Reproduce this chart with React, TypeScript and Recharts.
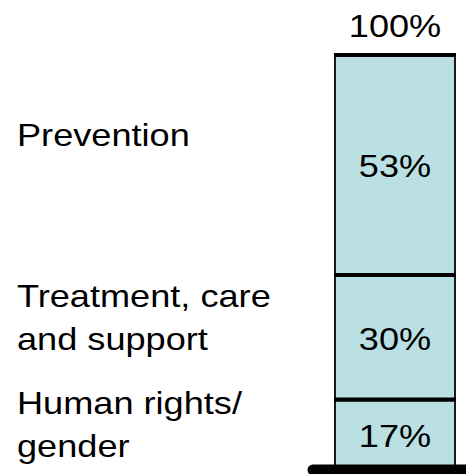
import React from 'react';
import { BarChart, Bar, XAxis, YAxis } from 'recharts';

// Data (bottom to top of the stack)
const categories = ['Human rights/\ngender', 'Treatment, care\nand support', 'Prevention'];
const values = [17, 30, 53];
const seriesKeys = ['humanRights', 'treatment', 'prevention'];
const totalLabel = '100%';

// Styling / layout constants
const FILL = '#bbe0e3';
const FONT = '"Liberation Sans", Arial, sans-serif';
const FONT_SIZE = 32;
const STRETCH = 1.13;
const LINE_GAP = 43;
const LEFT_TEXT_X = 17;
// first-line baseline offset relative to segment centre, per segment
const NAME_BASELINE_OFFSET = [-21, -30.5, -19];
const VALUE_BASELINE_OFFSET = 12.5;

const row: Record<string, any> = { name: 'Total' };
seriesKeys.forEach((k, i) => { row[k] = values[i]; });
const data = [row];

const makeShape = (index: number) => (props: any) => {
  const { x, y, width, height } = props;
  const isBottom = index === 0;
  return (
    <g>
      <rect x={x} y={y} width={width} height={height} fill={FILL} />
      <line x1={x} y1={y} x2={x} y2={y + height} stroke="#1a1a1a" strokeWidth={2} />
      <line x1={x + width} y1={y} x2={x + width} y2={y + height} stroke="#1a1a1a" strokeWidth={2} />
      <line x1={x - 1} y1={y} x2={x + width + 1} y2={y} stroke="#000" strokeWidth={4} />
      {!isBottom && (
        <line x1={x - 1} y1={y + height} x2={x + width + 1} y2={y + height} stroke="#000" strokeWidth={4} />
      )}
      {isBottom && (
        <line
          x1={x - 22}
          y1={y + height}
          x2={x + width + 40}
          y2={y + height}
          stroke="#000"
          strokeWidth={11}
          strokeLinecap="round"
        />
      )}
    </g>
  );
};

const StretchText = ({ x, y, anchor, children }: any) => (
  <text
    transform={`translate(${x},${y}) scale(${STRETCH},1)`}
    x={0}
    y={0}
    textAnchor={anchor}
    fontFamily={FONT}
    fontSize={FONT_SIZE}
    fill="#000"
  >
    {children}
  </text>
);

const makeLabel = (index: number) => (props: any) => {
  const vb = props.viewBox && props.viewBox.width !== undefined ? props.viewBox : props;
  const x = Number(vb.x);
  const y = Number(vb.y);
  const w = Number(vb.width);
  const h = Number(vb.height);
  const cx = x + w / 2;
  const cy = y + h / 2;
  const lines = categories[index].split('\n');
  const base = cy + NAME_BASELINE_OFFSET[index];
  const isTop = index === values.length - 1;
  return (
    <g>
      <StretchText x={cx} y={cy + VALUE_BASELINE_OFFSET} anchor="middle">
        {`${values[index]}%`}
      </StretchText>
      {isTop && (
        <StretchText x={cx} y={y - 18} anchor="middle">
          {totalLabel}
        </StretchText>
      )}
      {lines.map((ln, i) => (
        <StretchText key={i} x={LEFT_TEXT_X} y={base + i * LINE_GAP} anchor="start">
          {ln}
        </StretchText>
      ))}
    </g>
  );
};

export default function App() {
  return (
    <div style={{ position: 'absolute', left: 0, top: 0, background: '#fff' }}>
      <BarChart
        width={466}
        height={474}
        data={data}
        margin={{ top: 55, right: 11, bottom: 4, left: 335 }}
        barCategoryGap={0}
        barGap={0}
      >
        <XAxis dataKey="name" hide />
        <YAxis hide domain={[0, 100]} />
        {seriesKeys.map((k, i) => (
          <Bar
            key={k}
            dataKey={k}
            stackId="a"
            fill={FILL}
            isAnimationActive={false}
            shape={makeShape(i)}
            label={makeLabel(i)}
          />
        ))}
      </BarChart>
    </div>
  );
}
